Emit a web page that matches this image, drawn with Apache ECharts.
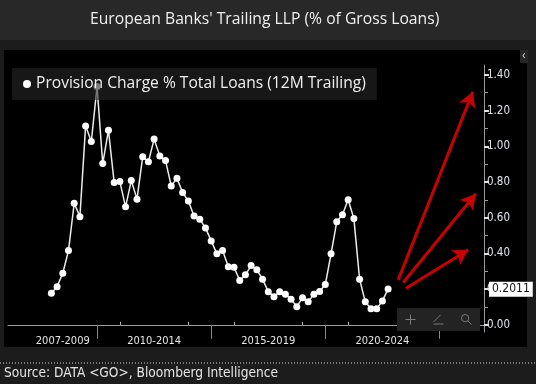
<!DOCTYPE html>
<html><head><meta charset="utf-8">
<script src="https://cdn.jsdelivr.net/npm/echarts@6/dist/echarts.min.js"></script>
<style>html,body{margin:0;padding:0;background:#1c1c1c;}#c{width:536px;height:384px;}</style>
</head><body><div id="c"></div>
<script>
// ---- data ----
const quarters = [
  '2007-Q4',
  '2008-Q1','2008-Q2','2008-Q3','2008-Q4',
  '2009-Q1','2009-Q2','2009-Q3','2009-Q4',
  '2010-Q1','2010-Q2','2010-Q3','2010-Q4',
  '2011-Q1','2011-Q2','2011-Q3','2011-Q4',
  '2012-Q1','2012-Q2','2012-Q3','2012-Q4',
  '2013-Q1','2013-Q2','2013-Q3','2013-Q4',
  '2014-Q1','2014-Q2','2014-Q3','2014-Q4',
  '2015-Q1','2015-Q2','2015-Q3','2015-Q4',
  '2016-Q1','2016-Q2','2016-Q3','2016-Q4',
  '2017-Q1','2017-Q2','2017-Q3','2017-Q4',
  '2018-Q1','2018-Q2','2018-Q3','2018-Q4',
  '2019-Q1','2019-Q2','2019-Q3','2019-Q4',
  '2020-Q1','2020-Q2','2020-Q3','2020-Q4',
  '2021-Q1','2021-Q2','2021-Q3','2021-Q4',
  '2022-Q1','2022-Q2','2022-Q3','2022-Q4'
];
const provisionPct = [
  0.177, 0.214, 0.289, 0.416, 0.681, 0.606, 1.114, 1.026, 1.334, 0.903,
  1.090, 0.797, 0.802, 0.661, 0.808, 0.704, 0.941, 0.913, 1.040, 0.946,
  0.920, 0.778, 0.821, 0.741, 0.693, 0.610, 0.592, 0.543, 0.470, 0.398,
  0.416, 0.326, 0.323, 0.248, 0.280, 0.332, 0.308, 0.256, 0.186, 0.158,
  0.186, 0.171, 0.144, 0.101, 0.152, 0.129, 0.172, 0.187, 0.226, 0.398,
  0.577, 0.616, 0.700, 0.595, 0.256, 0.129, 0.090, 0.090, 0.134, 0.2011
];
const lastValue = 0.2011;
const seriesName = 'Provision Charge % Total Loans (12M Trailing)';
const periodLabels = ['2007-2009', '2010-2014', '2015-2019', '2020-2024'];
const periodCenters = [2008.5, 2012.5, 2017.5, 2022.5];
const periodBreaks = [2010, 2015, 2020, 2025];
const minorYears = [2011, 2014, 2016, 2019, 2021, 2024, 2026];
const yTickValues = [0, 0.2, 0.4, 0.6, 0.8, 1.0, 1.2, 1.4];
const yMinorValues = [0.1, 0.3, 0.5, 0.7, 0.9, 1.1, 1.3];
// annotation arrows (data coordinates: [year, value])
const arrows = [
  { from: [2023.19, 0.252], to: [2026.46, 1.305] },
  { from: [2023.41, 0.237], to: [2026.59, 0.734] },
  { from: [2023.53, 0.205], to: [2026.26, 0.420] }
];

// ---- chart ----
const NARROW = "'Liberation Sans Narrow', 'DejaVu Sans Condensed', 'Liberation Sans', sans-serif";
const SANS = "'Open Sans', 'Noto Sans', sans-serif";
function quarterToYear(q) { const p = q.split('-Q'); return +p[0] + (+p[1]) / 4; }
const points = quarters.map((q, i) => [quarterToYear(q), provisionPct[i]]);

const chart = echarts.init(document.getElementById('c'), null, { renderer: 'canvas' });
const markData = arrows.map(a => [
  { coord: a.from, symbol: 'none' },
  { coord: a.to, symbol: 'arrow' }
]);
markData.push({
  yAxis: lastValue, symbol: 'none',
  lineStyle: { color: 'rgba(0,0,0,0)', width: 0.01 },
  label: {
    show: true, position: 'end', distance: 5,
    formatter: String(lastValue),
    backgroundColor: '#ffffff', color: '#111', padding: [2, 3, 1, 3],
    fontSize: 12, fontFamily: NARROW
  }
});

chart.setOption({
  animation: false,
  backgroundColor: '#1c1c1c',
  title: {
    text: "European Banks' Trailing LLP (% of Gross Loans)",
    left: 85, top: 7,
    textStyle: { color: '#f0f0f0', fontSize: 15.7, fontWeight: 'normal', fontFamily: SANS }
  },
  graphic: [
    { type: 'rect', z: -10, silent: true, shape: { x: 0, y: 0, width: 536, height: 40 }, style: { fill: '#282828' } },
    { type: 'rect', z: -10, silent: true, shape: { x: 4, y: 50, width: 523, height: 297 }, style: { fill: '#000' } },
    { type: 'rect', z: -9, silent: true, shape: { x: 520, y: 50, width: 8, height: 13 }, style: { fill: '#262626' } },
    { type: 'text', z: -8, silent: true, x: 522, y: 50, style: { text: '‹', fill: '#ccc', font: '12px ' + SANS } },
    { type: 'line', silent: true, shape: { x1: 0, y1: 363, x2: 536, y2: 363 }, style: { stroke: '#d0d0d0', lineWidth: 1, lineDash: [1, 2] } },
    { type: 'text', silent: true, x: 4, y: 366, style: { text: 'Source: DATA <GO>, Bloomberg Intelligence', fill: '#e6e6e6', font: '13.6px ' + NARROW } }
  ],
  legend: {
    left: 12, top: 68,
    padding: [8, 11, 8, 11],
    backgroundColor: 'rgba(38,38,38,0.6)',
    icon: 'circle', itemWidth: 8, itemHeight: 8,
    textStyle: { color: '#f0f0f0', fontSize: 15.6, fontFamily: SANS },
    data: [seriesName]
  },
  toolbox: {
    right: 56, bottom: 53, itemSize: 10, itemGap: 13,
    backgroundColor: '#232323', padding: [4, 6],
    iconStyle: { borderColor: '#7a7a7a', color: 'none', borderWidth: 1 },
    feature: {
      myCross: { show: true, title: ' ', icon: 'path://M6 0L6 12M0 6L12 6', onclick: function () {} },
      myPen: { show: true, title: ' ', icon: 'path://M2 10L9 3M2 12L12 12', onclick: function () {} },
      myZoom: { show: true, title: ' ', icon: 'path://M5 1A4 4 0 1 0 5.01 1M8 8L12 12', onclick: function () {} }
    }
  },
  grid: { left: 8, right: 52, top: 65, bottom: 52, containLabel: false },
  xAxis: [
    {
      type: 'value', min: 2006.1, max: 2026.95,
      splitLine: { show: false },
      axisLine: { show: true, lineStyle: { color: '#9a9a9a', width: 1 } },
      axisTick: { show: true, customValues: periodBreaks, length: 14, lineStyle: { color: '#8a8a8a' } },
      axisLabel: {
        customValues: periodCenters, margin: 4,
        color: '#e6e6e6', fontSize: 11, fontFamily: NARROW,
        formatter: v => periodLabels[periodCenters.indexOf(v)]
      }
    },
    {
      type: 'value', min: 2006.1, max: 2026.95, position: 'bottom',
      splitLine: { show: false }, axisLine: { show: false },
      axisLabel: { show: false },
      axisTick: { show: true, inside: true, customValues: minorYears, length: 3, lineStyle: { color: '#bbb' } }
    }
  ],
  yAxis: [
    {
      type: 'value', position: 'right', min: -0.04, max: 1.455,
      splitLine: { show: false },
      axisLine: { show: true, lineStyle: { color: '#9a9a9a', width: 1 } },
      axisTick: { show: true, customValues: yTickValues, length: 5, lineStyle: { color: '#e0e0e0', width: 2 } },
      axisLabel: {
        customValues: yTickValues, margin: 3,
        color: '#e2e6ec', fontSize: 11.5, fontFamily: NARROW,
        formatter: v => v.toFixed(2)
      }
    },
    {
      type: 'value', position: 'right', min: -0.04, max: 1.455,
      splitLine: { show: false }, axisLine: { show: false },
      axisLabel: { show: false },
      axisTick: { show: true, customValues: yMinorValues, length: 4, lineStyle: { color: '#9a9a9a' } }
    }
  ],
  series: [{
    name: seriesName, type: 'line',
    xAxisIndex: 0, yAxisIndex: 0,
    data: points,
    symbol: 'circle', symbolSize: 7,
    itemStyle: { color: '#ffffff' },
    lineStyle: { color: '#ececec', width: 1.5 },
    markLine: {
      silent: true, animation: false,
      symbol: ['none', 'arrow'], symbolSize: [13, 15],
      lineStyle: { color: '#c80000', width: 3, type: 'solid' },
      label: { show: false },
      data: markData
    }
  }]
});
</script>
</body></html>
